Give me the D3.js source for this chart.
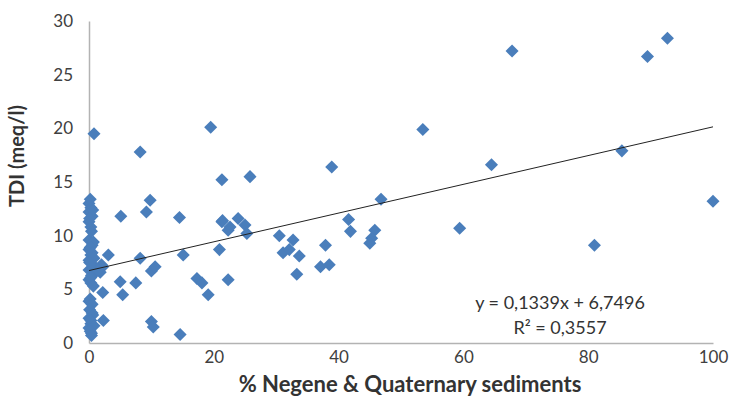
<!DOCTYPE html>
<html>
<head>
<meta charset="utf-8">
<script src="https://cdn.jsdelivr.net/npm/d3@7"></script>
<style>
  body { margin: 0; background: #fff; }
  text { font-family: Lato, "Open Sans", sans-serif; }
</style>
</head>
<body>
<svg id="chart"></svg>
<script>
// % sediments (x) and TDI (y)
var sediment = [
  0, 0.3, 0, 0.5, 0, 0.3, 0, 0.5, 0, 0.3, 0, 0.6, 0, 0.4, 0, 0.3, 0, 0.5, 0, 0.3, 0, 0.4,
  0.2, 0.6, 0.1, 0.4, 0.7, 0.2, 0.5, 0.8, 0.1, 0.6, 0.9, 0.3, 0.7, 0.2, 0.5, 0.1, 0.6, 0.3, 0.8, 0.2, 0.4,
  0.8, 1.8, 2.2, 3.1, 2.2, 2.3, 5.0, 5.4, 7.5, 8.2, 10.0, 10.6, 10.0, 10.3, 2.0, 1.5,
  9.8, 9.2, 5.1, 14.5, 15.1, 14.6, 17.3, 18.1, 19.1, 8.2, 19.5,
  20.9, 21.3, 22.3, 21.3, 22.6, 23.9, 25.0, 25.3, 22.3, 21.4, 25.8,
  30.5, 32.7, 31.1, 32.1, 33.7, 33.3, 37.1, 38.5, 37.9, 38.9,
  41.6, 41.9, 45.8, 45.3, 45.0, 46.8, 53.5, 59.4, 64.5, 67.8,
  81.0, 85.4, 89.5, 92.7, 100
]
var tdi = [
  13.0, 12.6, 12.2, 11.8, 11.3, 10.8, 9.6, 9.1, 8.7, 8.2, 7.7, 7.3, 6.8, 6.3, 5.9, 5.6, 3.9, 2.8, 2.3, 1.8, 1.4, 0.9,
  13.4, 12.4, 11.6, 10.4, 9.4, 8.9, 8.4, 7.9, 7.5, 7.0, 6.5, 6.1, 5.3, 4.1, 3.6, 3.1, 2.6, 2.1, 1.6, 1.1, 0.7,
  19.5, 6.6, 7.1, 8.2, 4.7, 2.1, 5.7, 4.5, 5.6, 7.9, 6.7, 7.1, 2.0, 1.5, 7.3, 6.8,
  13.3, 12.2, 11.8, 11.7, 8.2, 0.8, 6.0, 5.6, 4.5, 17.8, 20.1,
  8.7, 11.3, 10.5, 15.2, 10.8, 11.6, 11.0, 10.2, 5.9, 11.4, 15.5,
  10.0, 9.6, 8.4, 8.7, 8.1, 6.4, 7.1, 7.3, 9.1, 16.4,
  11.5, 10.4, 10.5, 9.75, 9.3, 13.4, 19.9, 10.7, 16.6, 27.2,
  9.1, 17.9, 26.7, 28.4, 13.2
]
var xTicks = [0, 20, 40, 60, 80, 100]
var yTicks = [0, 5, 10, 15, 20, 25, 30]
var slope = 0.1339
var intercept = 6.7496
var equation = "y = 0,1339x + 6,7496"
var rSquared = "R² = 0,3557"

var dimensions = {
    width: 730,
    height: 397,
    margin: { top: 21, bottom: 54, right: 17, left: 89 }
}

var svg = d3.select("#chart")
    .attr("width", dimensions.width)
    .attr("height", dimensions.height)

var xScale = d3.scaleLinear()
    .domain([0, 100])
    .range([dimensions.margin.left, dimensions.width - dimensions.margin.right])

var yScale = d3.scaleLinear()
    .domain([0, 30])
    .range([dimensions.height - dimensions.margin.bottom, dimensions.margin.top])

// axes, excel style: gray line, no tick marks
var xAxis = svg.append("g")
    .attr("transform", "translate(0," + yScale(0) + ")")
    .call(d3.axisBottom(xScale).tickValues(xTicks).tickSize(0).tickPadding(8))
xAxis.select(".domain").attr("stroke", "#b3b3b3").attr("stroke-width", 1.5)
xAxis.selectAll("text").attr("font-size", 17).attr("fill", "#404040")
    .style("font-family", "Lato, sans-serif")

var yAxis = svg.append("g")
    .attr("transform", "translate(" + xScale(0) + ",0)")
    .call(d3.axisLeft(yScale).tickValues(yTicks).tickSize(0).tickPadding(16))
yAxis.select(".domain").attr("stroke", "#b3b3b3").attr("stroke-width", 1.5)
yAxis.selectAll("text").attr("font-size", 17).attr("fill", "#404040")
    .style("font-family", "Lato, sans-serif")

// points
var points = sediment.map(function(s, i) { return { x: s, y: tdi[i] } })
var diamond = d3.symbol().type(d3.symbolSquare).size(85)

svg.append("g")
    .selectAll("path")
    .data(points)
    .enter()
    .append("path")
    .attr("d", diamond)
    .attr("transform", d => "translate(" + xScale(d.x) + "," + yScale(d.y) + ") rotate(45)")
    .attr("fill", "#4a7ebb")

// trend line
svg.append("line")
    .attr("x1", xScale(0))
    .attr("y1", yScale(intercept))
    .attr("x2", xScale(100))
    .attr("y2", yScale(intercept + slope * 100))
    .attr("stroke", "#222")
    .attr("stroke-width", 1)

// equation labels
svg.append("text")
    .attr("x", 560)
    .attr("y", 309)
    .attr("text-anchor", "middle")
    .attr("font-size", 18)
    .attr("fill", "#333")
    .text(equation)

svg.append("text")
    .attr("x", 560)
    .attr("y", 334)
    .attr("text-anchor", "middle")
    .attr("font-size", 18)
    .attr("fill", "#333")
    .text(rSquared)

// axis titles
svg.append("text")
    .attr("x", 410)
    .attr("y", 392)
    .attr("text-anchor", "middle")
    .attr("font-size", 22)
    .attr("font-weight", "bold")
    .attr("fill", "#333")
    .text("% Negene & Quaternary sediments")

svg.append("text")
    .attr("transform", "translate(24," + 156 + ") rotate(-90)")
    .attr("text-anchor", "middle")
    .attr("font-size", 20)
    .attr("font-weight", "bold")
    .attr("fill", "#333")
    .text("TDI (meq/l)")
</script>
</body>
</html>
